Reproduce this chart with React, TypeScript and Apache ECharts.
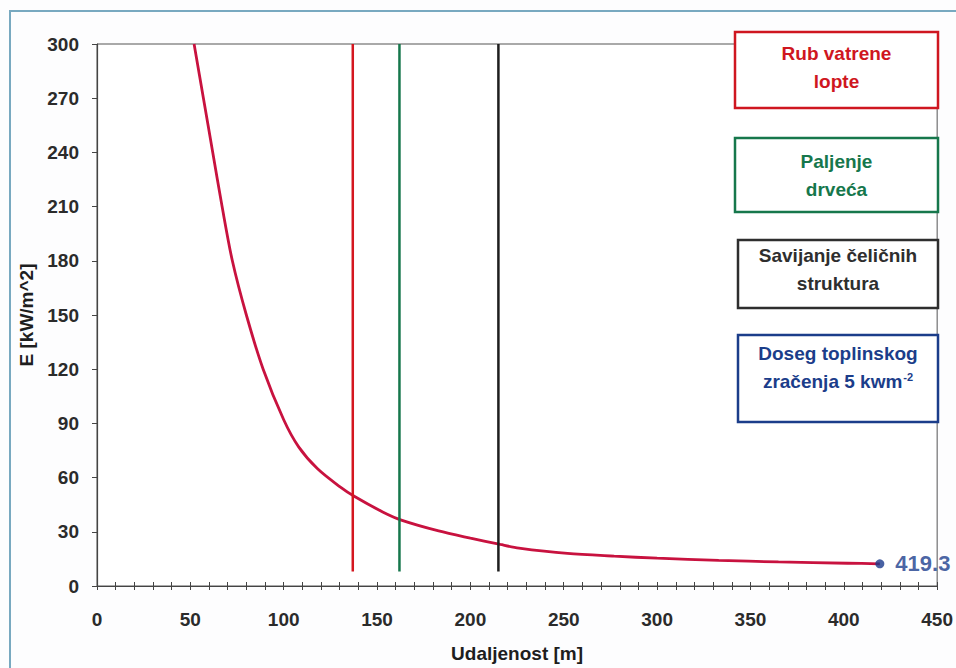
import React, { useEffect, useRef } from "react";
import * as echarts from "echarts";

// ---- data ----
const distances = [52, 57, 62, 67, 72.5, 80, 89, 100, 108, 118, 130, 138, 153, 163, 183, 200, 216, 226, 252, 277, 300, 333, 365, 402, 419.3];
const irradiance = [300, 270, 240, 210, 180, 150, 120, 92, 77, 65, 55, 49.5, 41, 36.5, 30.5, 26.5, 23, 21, 18, 16.5, 15.4, 14.2, 13.3, 12.6, 12.3];

const markerNames = ["Rub vatrene lopte", "Paljenje drveća", "Savijanje čeličnih struktura"];
const markerDistances = [137, 162, 215];
const markerRange = [8, 300];

const reachDistance = 419.3;
const reachValue = 12.3;

const legendLines = [
  ["Rub vatrene", "lopte"],
  ["Paljenje", "drveća"],
  ["Savijanje čeličnih", "struktura"],
  ["Doseg toplinskog", "zračenja 5 kwm{sup|-2}"],
];

const xMin = 0, xMax = 450, xStep = 50;
const yMin = 0, yMax = 300, yStep = 30;

const FONT = "'Liberation Sans', Arial, sans-serif";

export default function App() {
  const ref = useRef<HTMLDivElement>(null);

  useEffect(() => {
    const chart = echarts.init(ref.current!, null, { renderer: "svg" });

    const markerColors = ["#d4161f", "#16774c", "#1e1e1e"];
    const legendColors = ["#cf1620", "#16774c", "#2e2e2e", "#1b3d8a"];
    const legendBoxes = [
      { x: 735, y: 32, w: 203, h: 76, cy: 67 },
      { x: 735, y: 138, w: 203, h: 74, cy: 175 },
      { x: 738, y: 240, w: 200, h: 68, cy: 269 },
      { x: 738, y: 335, w: 200, h: 87, cy: 367 },
    ];

    const curve = distances.map((d, i) => [d, irradiance[i]]);

    const markerSeries = markerDistances.map((d, i) => ({
      name: markerNames[i],
      type: "line",
      data: [[d, markerRange[0]], [d, markerRange[1]]],
      showSymbol: false,
      silent: true,
      z: 3,
      lineStyle: { color: markerColors[i], width: 2.5 },
    }));

    const graphics: any[] = [
      {
        type: "rect",
        z: 0,
        shape: { x: 10, y: 11, width: 980, height: 700 },
        style: { fill: "none", stroke: "#78a9c0", lineWidth: 2 },
      },
    ];
    legendBoxes.forEach((b, i) => {
      graphics.push({
        type: "rect",
        z: 10,
        shape: { x: b.x, y: b.y, width: b.w, height: b.h },
        style: { fill: "#ffffff", stroke: legendColors[i], lineWidth: 2.5 },
      });
      const lines = legendLines[i];
      lines.forEach((t, j) => {
        graphics.push({
          type: "text",
          z: 11,
          x: b.x + b.w / 2,
          y: b.cy + (j - (lines.length - 1) / 2) * 28,
          style: {
            text: t,
            fill: legendColors[i],
            fontSize: 19,
            fontWeight: "bold",
            fontFamily: FONT,
            textAlign: "center",
            textVerticalAlign: "middle",
            rich: {
              sup: {
                fontSize: 11,
                fontWeight: "bold",
                fontFamily: FONT,
                fill: legendColors[i],
                verticalAlign: "top",
                padding: [0, 0, 8, 1],
              },
            },
          },
        });
      });
    });

    const option: any = {
      animation: false,
      backgroundColor: "#fdfdfe",
      grid: {
        left: 97,
        right: 16,
        top: 44,
        bottom: 79,
        show: true,
        backgroundColor: "#ffffff",
        borderColor: "#555555",
        borderWidth: 1,
      },
      xAxis: [
        {
          type: "value",
          min: xMin,
          max: xMax,
          interval: xStep,
          position: "bottom",
          axisLine: { lineStyle: { color: "#444", width: 1.2 } },
          axisTick: { show: true, length: 4, lineStyle: { color: "#444" } },
          minorTick: { show: true, splitNumber: 5, length: 4, lineStyle: { color: "#444" } },
          splitLine: { show: false },
          axisLabel: { margin: 24, fontSize: 19, fontWeight: "bold", color: "#2b2b2b", fontFamily: FONT },
          name: "Udaljenost [m]",
          nameLocation: "middle",
          nameGap: 58,
          nameTextStyle: { fontSize: 19, fontWeight: "bold", color: "#1e1e1e", fontFamily: FONT },
        },
        {
          type: "value",
          min: xMin,
          max: xMax,
          interval: xStep,
          position: "bottom",
          axisLine: { show: false },
          axisTick: { show: true, inside: true, length: 4, lineStyle: { color: "#444" } },
          minorTick: { show: true, splitNumber: 5, length: 4, lineStyle: { color: "#444" } },
          splitLine: { show: false },
          axisLabel: { show: false },
        },
      ],
      yAxis: {
        type: "value",
        min: yMin,
        max: yMax,
        interval: yStep,
        axisLine: { show: true, lineStyle: { color: "#444", width: 1.2 } },
        axisTick: { show: true, length: 5, lineStyle: { color: "#444" } },
        splitLine: { show: false },
        axisLabel: { margin: 18, fontSize: 19, fontWeight: "bold", color: "#2b2b2b", fontFamily: FONT },
        name: "E [kW/m^2]",
        nameLocation: "middle",
        nameGap: 60,
        nameTextStyle: { fontSize: 19, fontWeight: "bold", color: "#1e1e1e", fontFamily: FONT },
      },
      graphic: graphics,
      series: [
        {
          name: "E",
          type: "line",
          data: curve,
          smooth: 0.3,
          showSymbol: false,
          silent: true,
          z: 2,
          lineStyle: { color: "#c8123f", width: 2.8 },
        },
        ...markerSeries,
        {
          name: "Doseg",
          type: "scatter",
          data: [[reachDistance, reachValue]],
          symbolSize: 9,
          z: 5,
          itemStyle: { color: "#1a3a8c" },
          label: {
            show: true,
            position: "right",
            distance: 11,
            formatter: (p: any) => String(p.value[0]),
            fontSize: 22,
            fontWeight: "bold",
            color: "#1a3c8c",
            fontFamily: FONT,
          },
        },
      ],
    };

    chart.setOption(option);
    return () => chart.dispose();
  }, []);

  return (
    <div
      ref={ref}
      style={{ position: "fixed", left: 0, top: 0, width: 956, height: 668 }}
    />
  );
}
